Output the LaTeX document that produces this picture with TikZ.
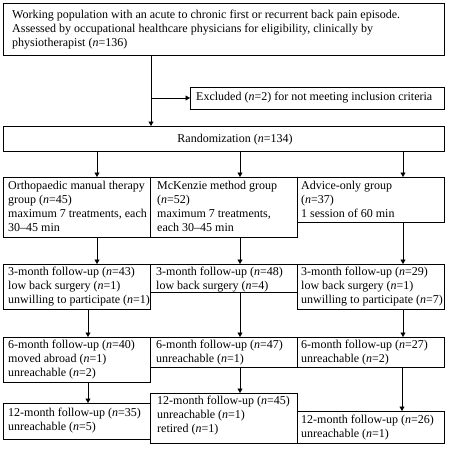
\documentclass[tikz,border=0pt]{standalone}
\usepackage{fontspec}
\setmainfont{Liberation Serif}
\usetikzlibrary{arrows.meta}
\begin{document}
\begin{tikzpicture}[x=1pt,y=-1pt,
  box/.style={draw, line width=0.7pt, anchor=north west, inner sep=0pt, outer sep=0pt, minimum width=147pt},
  txt/.style={anchor=north west, inner sep=0pt, align=left, font=\fontsize{12}{14}\selectfont},
  arr/.style={draw, line width=0.6pt, -{Triangle[width=5pt,length=4.5pt]}}]
\useasboundingbox (0,0) rectangle (469,455);
% boxes
\node[box, minimum width=441pt, minimum height=52pt] (top) at (3,3) {};
\node[box, minimum width=254pt, minimum height=22pt] (exc) at (190,87) {};
\node[box, minimum width=441pt, minimum height=25pt] (rand) at (3,126) {};
\node[box, minimum height=60pt] (g1) at (3,177) {};
\node[box, minimum height=60pt] (g2) at (150,177) {};
\node[box, minimum height=45pt] (g3) at (297,177) {};
\node[box, minimum height=45pt] (a1) at (3,264) {};
\node[box, minimum height=28pt] (a2) at (150,264) {};
\node[box, minimum height=45pt] (a3) at (297,264) {};
\node[box, minimum height=45pt] (b1) at (3,337) {};
\node[box, minimum height=30pt] (b2) at (150,337) {};
\node[box, minimum height=30pt] (b3) at (297,337) {};
\node[box, minimum height=36pt] (c1) at (3,403) {};
\node[box, minimum height=50pt] (c2) at (150,393) {};
\node[box, minimum height=32pt] (c3) at (297,411) {};
% texts
\node[txt] (ttop) at (12,10) {Working population with an acute to chronic first or recurrent back pain episode.\\Assessed by occupational healthcare physicians for eligibility, clinically by\\physiotherapist (\textit{n}=136)};
\node[txt, anchor=west] (texc) at (196,98) {Excluded (\textit{n}=2) for not meeting inclusion criteria};
\node[txt, anchor=center] (trand) at (235,140) {Randomization (\textit{n}=134)};
\node[txt] (tg1) at (8,181) {Orthopaedic manual therapy\\group (\textit{n}=45)\\maximum 7 treatments, each\\30–45 min};
\node[txt] (tg2) at (157,181) {McKenzie method group\\(\textit{n}=52)\\maximum 7 treatments,\\each 30–45 min};
\node[txt] (tg3) at (301,181) {Advice-only group\\(\textit{n}=37)\\1 session of 60 min};
\node[txt] (ta1) at (8,267) {3-month follow-up (\textit{n}=43)\\low back surgery (\textit{n}=1)\\unwilling to participate (\textit{n}=1)};
\node[txt] (ta2) at (156,267) {3-month follow-up (\textit{n}=48)\\low back surgery (\textit{n}=4)};
\node[txt] (ta3) at (301,267) {3-month follow-up (\textit{n}=29)\\low back surgery (\textit{n}=1)\\unwilling to participate (\textit{n}=7)};
\node[txt] (tb1) at (8,340) {6-month follow-up (\textit{n}=40)\\moved abroad (\textit{n}=1)\\unreachable (\textit{n}=2)};
\node[txt] (tb2) at (156,340) {6-month follow-up (\textit{n}=47)\\unreachable (\textit{n}=1)};
\node[txt] (tb3) at (301,340) {6-month follow-up (\textit{n}=27)\\unreachable (\textit{n}=2)};
\node[txt] (tc1) at (8,408) {12-month follow-up (\textit{n}=35)\\unreachable (\textit{n}=5)};
\node[txt] (tc2) at (157,396) {12-month follow-up (\textit{n}=45)\\unreachable (\textit{n}=1)\\retired (\textit{n}=1)};
\node[txt] (tc3) at (301,415) {12-month follow-up (\textit{n}=26)\\unreachable (\textit{n}=1)};
% connector columns
\coordinate (x0) at (151,0);
\coordinate (xl) at (97,0);
\coordinate (xL) at (88,0);
\coordinate (xm) at (240,0);
\coordinate (xr) at (403,0);
\coordinate (xR) at (402,0);
% connectors
\draw[line width=0.6pt] (top.south -| x0) -- (exc.west -| x0);
\draw[arr] (exc.west -| x0) -- (exc.west);
\draw[arr] (top.south -| x0) -- (rand.north -| x0);
\draw[arr] (rand.south -| xl) -- (g1.north -| xl);
\draw[arr] (rand.south -| xm) -- (g2.north -| xm);
\draw[arr] (rand.south -| xr) -- (g3.north -| xr);
\draw[arr] (g1.south -| xl) -- (a1.north -| xl);
\draw[arr] (g2.south -| xm) -- (a2.north -| xm);
\draw[arr] (g3.south -| xr) -- (a3.north -| xr);
\draw[arr] (a1.south -| xL) -- (b1.north -| xL);
\draw[arr] (a2.south -| xm) -- (b2.north -| xm);
\draw[arr] (a3.south -| xr) -- (b3.north -| xr);
\draw[arr] (b1.south -| xL) -- (c1.north -| xL);
\draw[arr] (b2.south -| xm) -- (c2.north -| xm);
\draw[arr] (b3.south -| xR) -- (c3.north -| xR);
\end{tikzpicture}
\end{document}
